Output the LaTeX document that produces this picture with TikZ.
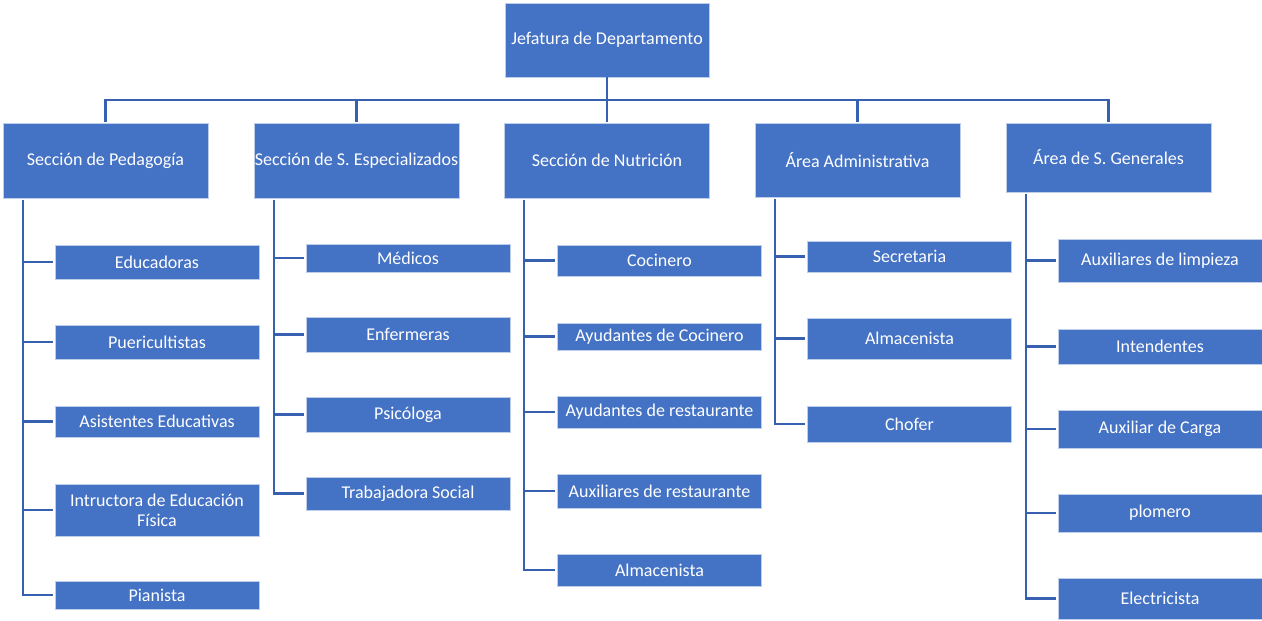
\documentclass[tikz,border=0pt]{standalone}
\usepackage{fontspec}
\setmainfont{Carlito}
\usetikzlibrary{calc}
\definecolor{boxblue}{HTML}{4472C4}
\definecolor{linkblue}{RGB}{56,96,176}
\tikzset{
  box/.style={fill=boxblue, draw=white!65!boxblue, line width=0.8pt, text=white,
    inner sep=0pt, align=center, font=\fontsize{18}{20}\selectfont},
  sec/.style={box, minimum width=205pt, minimum height=75pt},
  kid/.style={box, minimum width=204pt},
  link/.style={draw=linkblue, line width=2.2pt}
}
\begin{document}
\begin{tikzpicture}[x=1pt,y=-1pt]
\useasboundingbox (0,0) rectangle (1262,621);
\fill[white] (0,0) rectangle (1262,621);
% top
\node[box, minimum width=204pt, minimum height=74pt] (top) at (607,40) {Jefatura de Departamento};
% sections
\node[sec] (s1) at (105.5,160.5) {Sección de Pedagogía};
\node[sec] (s2) at (356.5,160.5) {Sección de S. Especializados};
\node[sec] (s3) at (607,160.5) {Sección de Nutrición};
\node[sec, minimum height=74pt] (s4) at (857.5,160) {Área Administrativa};
\node[sec, minimum height=69pt] (s5) at (1108.5,157.5) {Área de S. Generales};
% column 1
\node[kid, minimum height=34pt] (c11) at (157,262) {Educadoras};
\node[kid, minimum height=34pt] (c12) at (157,342) {Puericultistas};
\node[kid, minimum height=31pt] (c13) at (157,421.5) {Asistentes Educativas};
\node[kid, minimum height=52pt] (c14) at (157,510) {Intructora de Educación\\Física};
\node[kid, minimum height=28pt] (c15) at (157,595) {Pianista};
% column 2
\node[kid, minimum height=28pt] (c21) at (408,258) {Médicos};
\node[kid, minimum height=35pt] (c22) at (408,334.5) {Enfermeras};
\node[kid, minimum height=35pt] (c23) at (408,414.5) {Psicóloga};
\node[kid, minimum height=33pt] (c24) at (408,493.5) {Trabajadora Social};
% column 3
\node[kid, minimum height=31pt] (c31) at (659.5,260.5) {Cocinero};
\node[kid, minimum height=27pt] (c32) at (659.5,336.5) {Ayudantes de Cocinero};
\node[kid, minimum height=32pt] (c33) at (659.5,412) {Ayudantes de restaurante};
\node[kid, minimum height=34pt] (c34) at (659.5,491) {Auxiliares de restaurante};
\node[kid, minimum height=32pt] (c35) at (659.5,570) {Almacenista};
% column 4
\node[kid, minimum height=31pt] (c41) at (909.5,256.5) {Secretaria};
\node[kid, minimum height=41pt] (c42) at (909.5,338.5) {Almacenista};
\node[kid, minimum height=36pt] (c43) at (909.5,424) {Chofer};
% column 5
\node[kid, minimum height=43pt] (c51) at (1160,260.5) {Auxiliares de limpieza};
\node[kid, minimum height=35pt] (c52) at (1160,346.5) {Intendentes};
\node[kid, minimum height=38pt] (c53) at (1160,429) {Auxiliar de Carga};
\node[kid, minimum height=38pt] (c54) at (1160,513) {plomero};
\node[kid, minimum height=41pt] (c55) at (1160,598.5) {Electricista};
% top bus
\coordinate (bus) at (607,100);
\draw[link] (top.south) -- (bus);
\foreach \s in {s1,s2,s3,s4,s5} \draw[link] (bus) -| ($(\s.north)+(0,-1)$);
% trunks
\foreach \s/\kids in {s1/{c11,c12,c13,c14,c15}, s2/{c21,c22,c23,c24}, s3/{c31,c32,c33,c34,c35}, s4/{c41,c42,c43}, s5/{c51,c52,c53,c54,c55}}{
  \coordinate (t) at ($(\s.south west)+(20,2)$);
  \foreach \k in \kids \draw[link] (t) |- ($(\k.west)+(-2,0)$);
}
\end{tikzpicture}
\end{document}
